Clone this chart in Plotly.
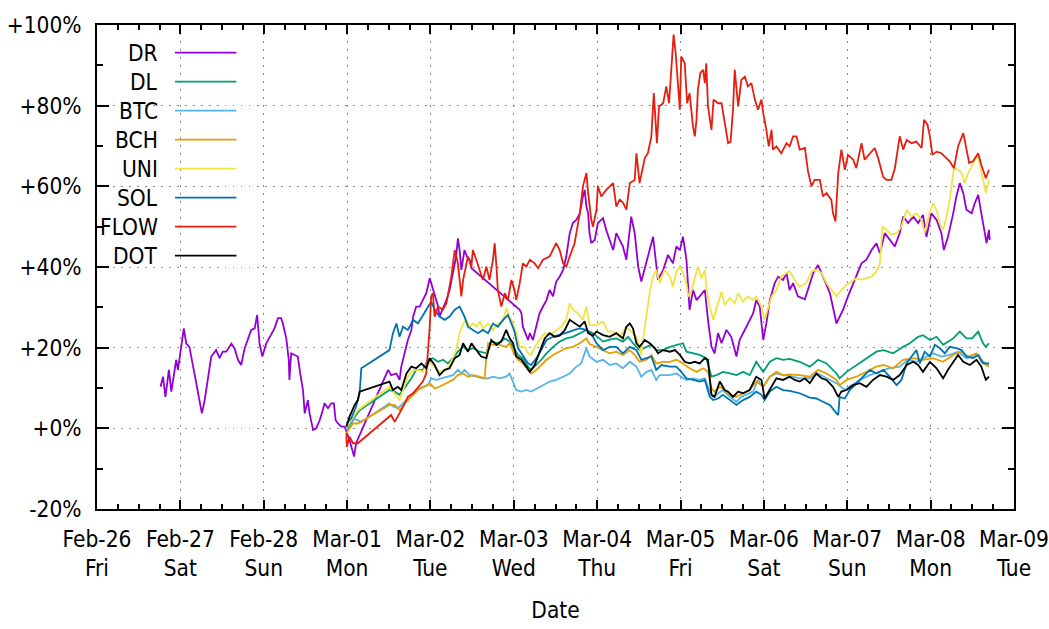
import pandas as pd
import plotly.graph_objects as go

# time axis is hours after 2021-02-26 00:00, values are % change
START = pd.Timestamp("2021-02-26")

dr_hours = [18.3, 19.0, 19.7, 20.7, 21.4, 22.8, 23.3, 25.0, 25.7, 26.6, 28.4, 29.0, 30.2, 31.0, 31.9, 32.9,
            34.3, 35.3, 36.2, 37.2, 38.7, 39.6, 40.6, 41.5, 42.5, 43.4, 44.4, 45.4, 46.1, 46.8, 47.6, 48.7,
            50.2, 51.1, 52.1, 53.0, 53.5, 54.5, 55.2, 55.4, 55.9, 56.9, 57.8, 58.5, 59.3, 59.8, 60.7, 61.2,
            62.2, 63.1, 64.1, 65.0, 65.5, 66.5, 67.4, 68.2, 68.7, 69.4, 70.3, 71.3, 71.8, 72.7, 74.0, 74.6,
            83.8, 84.7, 86.2, 87.1, 87.6, 88.6, 89.5, 90.5, 91.0, 91.9, 92.9, 93.8, 94.8, 95.8, 96.2, 97.2,
            98.2, 98.6, 99.6, 100.6, 101.5, 102.5, 103.4, 103.9, 104.4, 104.9, 105.8, 106.5, 107.3, 107.8,
            121.7, 122.2, 122.6, 124.1, 124.6, 125.5, 126.5, 127.4, 128.4, 129.4, 130.3, 131.3, 132.2, 133.2,
            134.2, 135.1, 136.1, 137.0, 138.0, 139.0, 139.9, 140.4, 140.9, 141.4, 141.8, 142.3, 143.3, 144.2,
            145.7, 146.6, 147.6, 148.6, 149.5, 150.5, 151.4, 152.4, 153.8, 154.8, 155.8, 156.7, 158.2, 160.1,
            161.5, 163.0, 164.4, 165.8, 166.8, 167.8, 168.7, 169.7, 170.6, 171.6, 172.6, 173.5, 175.0, 175.9,
            176.9, 177.8, 178.8, 179.8, 181.2, 182.6, 184.1, 185.0, 186.5, 187.9, 188.9, 189.8, 190.8, 191.8,
            192.7, 193.7, 195.1, 196.1, 197.5, 198.5, 199.4, 200.4, 201.8, 203.8, 206.2, 207.6, 209.0, 211.0,
            212.9, 214.8, 216.2, 218.6, 220.1, 221.5, 223.0, 224.4, 225.4, 226.8, 228.2, 229.7, 231.1, 232.1,
            233.5, 235.0, 236.4, 237.8, 238.8, 240.2, 241.7, 243.1, 243.8, 245.0, 246.5, 247.4, 248.4, 249.4,
            250.3, 251.8, 252.7, 253.7, 254.6, 255.6, 256.1, 256.8, 257.0]
dr_pct = [10.3, 12.8, 7.8, 14.5, 9.1, 17.0, 14.5, 24.8, 21.0, 20.2, 12.0, 9.5, 3.7, 7.0, 12.0, 17.8,
          19.4, 17.4, 19.0, 19.0, 21.0, 19.8, 17.0, 15.7, 19.8, 21.9, 24.4, 24.8, 28.1, 21.0, 17.8, 21.0,
          23.6, 24.8, 27.3, 27.3, 26.0, 22.3, 17.0, 12.0, 18.6, 18.2, 17.8, 13.6, 9.5, 3.7, 7.0, 3.7,
          -0.4, 0.0, 2.0, 4.5, 6.2, 5.0, 6.2, 6.2, 2.0, 1.2, 0.4, 0.4, -0.8, -2.9, -7.0, -3.7,
          14.5, 13.2, 13.6, 12.0, 15.3, 18.6, 21.9, 24.4, 27.7, 30.2, 30.2, 31.8, 33.5, 37.2, 36.0, 33.6,
          30.2, 27.7, 29.8, 31.8, 34.3, 38.5, 42.6, 47.1, 44.2, 39.3, 44.2, 42.6, 41.8, 39.7,
          29.4, 28.5, 25.2, 21.9, 23.6, 21.9, 25.2, 28.5, 30.2, 31.8, 34.3, 32.7, 36.4, 37.6,
          39.3, 42.6, 48.4, 50.9, 51.7, 53.3, 57.5, 59.1, 55.0, 53.3, 48.4, 45.9, 46.7, 50.9,
          52.1, 49.2, 46.7, 44.2, 48.4, 46.7, 45.1, 41.8, 52.5, 48.4, 40.1, 36.4, 41.3, 47.5,
          36.8, 39.3, 43.0, 40.9, 45.1, 44.2, 47.5, 41.8, 29.4, 34.3, 31.8, 32.7, 34.3, 26.9,
          20.2, 18.6, 23.6, 21.1, 24.4, 22.7, 17.8, 21.9, 24.4, 26.9, 28.5, 31.8, 30.2, 21.9,
          26.0, 31.8, 36.0, 37.6, 36.8, 38.5, 34.3, 36.0, 32.7, 32.0, 38.5, 40.5, 37.6, 33.5,
          26.0, 29.4, 32.7, 37.6, 40.9, 41.8, 44.2, 45.9, 43.4, 48.4, 46.7, 45.1, 48.4, 52.5,
          50.9, 52.5, 50.9, 52.9, 47.5, 53.3, 51.7, 48.4, 44.2, 47.5, 53.3, 57.5, 60.8, 58.3,
          54.2, 53.3, 55.8, 57.9, 53.3, 48.4, 45.9, 49.2, 46.7]

dl_hours = [72.2, 74.2, 75.6, 84.2, 85.7, 87.1, 89.1, 90.5, 91.9, 93.8, 95.3, 96.7, 98.2, 99.6, 101.0, 102.5,
            103.9, 105.4, 106.8, 108.2, 110.2, 112.1, 113.5, 115.4, 117.4, 118.8, 119.8, 121.2, 122.6, 124.1,
            125.0, 126.5, 127.9, 129.4, 131.3, 133.2, 135.1, 137.0, 139.0, 140.9, 142.8, 145.7, 147.6, 149.5,
            151.4, 152.9, 154.3, 156.2, 158.2, 159.6, 161.0, 163.0, 164.9, 166.8, 168.7, 169.7, 171.6, 173.5,
            175.4, 176.9, 178.3, 180.2, 182.2, 184.1, 186.0, 187.9, 189.8, 191.8, 193.7, 195.6, 197.5, 199.4,
            202.3, 205.2, 207.6, 210.0, 212.9, 213.8, 215.8, 218.6, 221.5, 224.4, 226.4, 229.2, 232.1, 234.0,
            236.4, 237.8, 239.8, 241.7, 243.6, 246.5, 248.4, 250.3, 251.9, 253.7, 255.1, 255.9, 256.8]
dl_pct = [-0.4, 2.9, 4.5, 9.5, 9.1, 8.3, 10.7, 12.4, 14.5, 14.5, 17.0, 17.4, 16.5, 17.0, 16.1, 17.4,
          19.0, 20.2, 19.4, 19.9, 19.0, 18.6, 21.5, 21.1, 22.3, 21.5, 20.2, 18.2, 17.4, 15.3,
          14.5, 15.7, 17.0, 18.6, 20.2, 21.5, 22.3, 22.7, 23.6, 24.4, 23.6, 21.5, 22.0, 22.3,
          21.5, 22.7, 21.1, 19.4, 20.2, 20.7, 19.4, 19.4, 20.2, 20.7, 21.1, 19.0, 18.6, 18.2,
          17.4, 12.8, 13.2, 14.0, 13.6, 13.2, 14.0, 13.2, 16.5, 14.0, 16.5, 17.4, 17.0, 17.2,
          16.5, 15.3, 17.0, 16.1, 13.6, 12.4, 14.0, 15.7, 17.4, 19.0, 19.4, 18.6, 20.2, 21.1,
          22.7, 23.1, 21.9, 22.7, 20.7, 22.3, 24.0, 22.3, 22.3, 24.0, 21.1, 20.2, 21.1]

btc_hours = [71.8, 73.7, 76.1, 84.2, 85.2, 86.6, 88.1, 90.0, 91.9, 93.8, 95.3, 96.2, 97.7, 99.1, 100.6, 102.5,
             103.9, 104.9, 105.8, 107.3, 109.2, 111.1, 112.6, 114.0, 115.9, 117.8, 118.8, 119.8, 120.7, 122.2,
             123.6, 125.0, 126.5, 128.4, 130.3, 132.2, 134.2, 136.1, 138.0, 139.4, 140.9, 141.8, 143.8, 145.7,
             147.6, 149.5, 151.4, 153.4, 155.3, 156.7, 158.2, 159.6, 161.0, 162.0, 164.9, 166.8, 168.2, 169.7,
             171.6, 173.5, 175.0, 176.4, 177.4, 178.8, 180.2, 182.2, 184.1, 185.5, 187.0, 188.9, 190.3, 191.8,
             193.7, 195.6, 197.5, 199.4, 202.3, 205.2, 207.6, 210.0, 212.9, 215.3, 217.2, 219.6, 222.5, 225.4,
             228.2, 231.1, 233.5, 235.9, 238.8, 240.7, 243.1, 245.5, 247.9, 250.3, 252.2, 253.7, 255.1, 256.8]
btc_pct = [-0.4, 2.5, 1.6, 6.2, 5.4, 5.0, 6.2, 7.8, 9.5, 10.3, 10.7, 12.4, 12.0, 12.4, 12.8, 13.2,
           14.5, 13.6, 14.5, 13.2, 12.8, 12.4, 12.4, 12.8, 12.4, 12.8, 13.6, 11.6, 9.5, 9.1,
           9.5, 9.1, 9.9, 10.7, 11.6, 12.0, 12.8, 13.6, 15.3, 16.1, 19.9, 17.8, 16.5, 17.0,
           15.7, 16.1, 14.9, 16.5, 15.3, 12.8, 14.0, 14.5, 12.0, 13.2, 13.2, 13.6, 12.8, 12.0,
           12.4, 12.0, 12.4, 9.1, 7.8, 8.7, 9.5, 7.8, 6.6, 7.8, 8.3, 9.1, 12.0, 10.3,
           12.8, 13.6, 13.2, 13.0, 12.4, 12.4, 13.6, 12.4, 11.2, 9.5, 10.7, 12.0, 13.2, 14.0,
           14.9, 15.3, 17.0, 16.5, 17.8, 18.6, 17.8, 18.2, 19.0, 17.4, 17.8, 18.2, 16.5, 15.7]

bch_hours = [71.8, 73.7, 75.1, 84.2, 85.7, 87.1, 88.6, 90.5, 92.4, 94.3, 95.8, 97.2, 98.6, 100.6, 102.5, 103.9,
             105.4, 106.8, 108.2, 110.2, 111.6, 112.1, 112.6, 114.0, 115.9, 117.8, 118.8, 119.8, 121.2, 122.6,
             124.1, 125.0, 126.5, 127.9, 129.4, 131.3, 133.2, 135.1, 137.0, 139.0, 140.9, 141.8, 143.8, 145.7,
             147.6, 149.5, 151.4, 153.4, 154.8, 156.2, 158.2, 159.6, 161.0, 163.0, 164.9, 166.8, 168.7, 170.6,
             172.6, 174.5, 175.9, 176.9, 177.8, 179.3, 180.7, 182.2, 184.1, 186.0, 187.9, 189.8, 191.8, 193.7,
             195.6, 197.5, 199.4, 202.3, 205.2, 207.6, 210.0, 212.9, 213.8, 215.8, 218.6, 221.5, 224.4, 226.4,
             229.2, 232.1, 235.0, 237.8, 240.7, 243.6, 246.5, 248.9, 250.8, 253.2, 254.6, 256.8]
bch_pct = [-1.2, 1.2, 1.2, 5.8, 5.8, 4.5, 6.2, 7.8, 9.5, 10.3, 11.2, 9.9, 10.3, 11.2, 12.0, 13.2,
           13.6, 12.8, 13.2, 12.8, 12.4, 17.8, 21.1, 20.7, 20.7, 20.2, 21.1, 19.0, 17.0, 16.1,
           14.5, 13.6, 14.5, 15.7, 17.0, 18.2, 19.0, 19.9, 20.2, 21.1, 22.3, 20.9, 20.2, 19.4,
           18.6, 19.0, 18.2, 19.4, 18.2, 16.5, 17.0, 18.2, 16.1, 16.5, 16.5, 17.0, 16.1, 14.9,
           14.0, 14.9, 14.0, 9.9, 9.1, 10.3, 9.5, 8.3, 7.8, 8.7, 9.5, 11.6, 10.3, 12.8,
           14.0, 13.2, 13.4, 13.2, 12.8, 14.5, 13.6, 12.0, 10.7, 12.0, 12.8, 14.0, 15.3, 15.7,
           14.9, 17.0, 17.4, 17.0, 17.4, 16.5, 18.2, 19.0, 17.8, 18.6, 16.5, 15.3]

uni_hours = [71.8, 73.7, 75.1, 84.2, 85.7, 87.1, 88.1, 89.5, 91.0, 92.4, 93.8, 95.3, 96.7, 98.6, 100.6, 102.5,
             103.4, 104.4, 105.4, 106.3, 107.3, 108.2, 109.2, 110.2, 111.1, 112.6, 114.0, 115.4, 116.9, 117.8,
             118.8, 119.8, 120.7, 121.7, 123.1, 124.1, 125.0, 126.0, 127.4, 128.9, 130.3, 132.2, 133.7, 135.1,
             136.1, 137.0, 138.5, 139.9, 140.9, 141.8, 143.8, 145.7, 147.1, 148.6, 150.5, 152.4, 153.8, 155.3,
             156.2, 156.7, 157.2, 158.2, 159.1, 160.1, 161.0, 162.0, 163.4, 164.9, 165.8, 166.8, 167.8, 168.7,
             169.7, 170.2, 171.1, 172.1, 173.0, 174.0, 175.0, 175.4, 176.4, 177.4, 178.3, 179.8, 180.7, 182.2,
             183.6, 184.6, 186.0, 187.4, 188.9, 189.8, 191.3, 192.2, 193.2, 194.2, 195.6, 197.0, 198.5, 199.4,
             200.9, 202.3, 204.2, 205.7, 207.1, 208.6, 210.0, 211.4, 212.9, 214.3, 215.8, 217.2, 218.6, 220.1,
             221.5, 223.0, 224.4, 225.4, 226.1, 227.3, 228.7, 230.2, 231.6, 233.1, 234.5, 235.9, 237.4, 238.3,
             239.6, 240.7, 241.7, 242.6, 243.6, 244.6, 245.5, 246.7, 247.9, 248.9, 249.8, 250.8, 251.8, 252.7,
             253.7, 254.4, 255.1, 255.9, 256.8]
uni_pct = [0.4, 2.9, 4.5, 10.3, 8.7, 7.0, 9.5, 12.8, 14.5, 14.5, 14.0, 16.5, 15.7, 14.0, 14.5, 17.4,
           19.4, 23.6, 26.0, 26.9, 25.2, 26.0, 25.2, 26.5, 24.8, 26.0, 24.4, 26.0, 26.5, 29.8,
           27.7, 26.0, 23.6, 20.2, 20.2, 18.6, 18.2, 20.2, 21.9, 23.6, 23.1, 24.4, 25.2, 26.9,
           31.0, 29.4, 28.5, 26.9, 30.2, 25.6, 25.6, 26.5, 24.0, 24.0, 22.7, 25.2, 24.0, 22.7,
           20.2, 18.2, 21.9, 28.5, 33.5, 37.6, 39.3, 36.0, 39.3, 37.6, 35.1, 38.9, 40.1, 38.5,
           36.0, 32.7, 33.9, 37.2, 40.1, 37.2, 39.3, 35.1, 30.2, 26.9, 29.4, 33.9, 30.6, 32.3,
           31.0, 33.5, 31.4, 32.7, 31.8, 32.7, 30.2, 26.9, 29.8, 32.7, 34.3, 37.6, 38.5, 39.0,
           36.8, 35.1, 36.0, 38.9, 39.3, 38.5, 36.0, 34.3, 32.7, 34.3, 35.6, 36.4, 37.2, 36.8,
           37.2, 37.6, 38.9, 40.9, 50.0, 49.2, 48.0, 48.4, 50.0, 54.2, 52.5, 53.3, 51.7, 48.4,
           53.3, 55.8, 54.2, 50.9, 49.2, 52.5, 56.7, 64.5, 64.1, 63.3, 60.8, 63.3, 64.9, 66.6,
           67.4, 64.1, 61.6, 58.3, 61.6]

sol_hours = [71.8, 73.2, 74.6, 75.6, 76.1, 84.2, 85.2, 86.2, 87.1, 88.1, 89.5, 91.0, 92.4, 93.8, 95.3, 96.2,
             97.2, 98.6, 100.1, 101.5, 103.0, 104.4, 105.8, 106.8, 108.2, 109.7, 111.1, 112.6, 114.0, 115.4,
             116.9, 118.3, 119.3, 120.2, 121.2, 122.6, 124.1, 125.0, 126.5, 127.9, 129.4, 131.3, 134.2, 136.1,
             137.5, 139.0, 140.9, 142.8, 143.8, 145.7, 147.6, 149.5, 151.4, 153.4, 155.3, 156.7, 158.2, 159.6,
             161.0, 162.5, 164.9, 166.8, 168.2, 169.7, 171.6, 173.5, 175.0, 176.4, 177.4, 178.8, 180.2, 182.2,
             184.1, 186.0, 187.9, 189.8, 191.3, 192.2, 193.7, 195.6, 197.5, 199.4, 202.3, 205.2, 207.1, 209.0,
             211.0, 212.9, 213.4, 213.8, 215.3, 216.7, 218.6, 220.6, 222.5, 224.4, 226.4, 228.2, 230.2, 231.6,
             233.1, 234.5, 235.9, 236.9, 238.3, 239.8, 241.2, 242.6, 244.1, 245.5, 247.4, 248.9, 250.3, 252.2,
             253.7, 255.1, 256.8]
sol_pct = [1.2, 2.5, 5.4, 8.7, 14.9, 19.4, 23.6, 26.0, 22.7, 25.2, 24.4, 26.9, 26.0, 28.1, 30.2, 31.4,
           29.4, 27.7, 26.9, 27.7, 29.4, 30.2, 27.7, 25.2, 24.4, 23.6, 24.4, 23.6, 26.0, 25.2,
           26.9, 28.1, 26.0, 24.0, 19.9, 18.2, 16.1, 15.7, 17.4, 19.4, 21.9, 22.7, 23.6, 24.0,
           24.4, 24.8, 24.4, 22.7, 21.1, 19.4, 20.2, 20.2, 18.6, 20.2, 19.4, 17.0, 17.4, 17.8,
           14.5, 15.7, 15.3, 15.3, 14.0, 12.4, 12.0, 11.6, 12.0, 7.8, 7.0, 7.4, 8.3, 7.0,
           5.8, 7.0, 7.8, 9.1, 8.3, 7.0, 9.1, 10.3, 9.5, 9.3, 8.7, 7.6, 7.4, 6.6,
           5.8, 3.7, 3.3, 7.8, 7.4, 9.5, 11.2, 12.8, 14.5, 13.6, 14.5, 12.8, 10.7, 12.0,
           16.1, 17.8, 19.4, 16.1, 19.0, 17.8, 20.7, 19.9, 18.6, 20.2, 19.9, 19.4, 17.8, 17.4,
           18.2, 16.1, 16.1]

flow_hours = [71.8, 71.9, 72.7, 73.7, 75.1, 84.7, 85.7, 86.6, 87.6, 88.6, 89.5, 91.0, 92.4, 93.8, 94.8, 95.3,
              95.8, 96.2, 96.7, 97.2, 98.2, 99.6, 100.6, 102.0, 103.0, 103.9, 104.9, 105.4, 106.3, 106.8,
              107.8, 108.2, 109.2, 110.2, 111.1, 112.1, 113.0, 114.0, 114.5, 115.0, 115.4, 116.4, 117.4, 118.3,
              119.3, 120.2, 120.7, 121.7, 122.6, 123.6, 124.6, 126.0, 127.0, 128.4, 130.3, 132.2, 133.2, 134.2,
              135.1, 136.1, 137.5, 138.5, 139.0, 139.9, 140.9, 141.4, 142.3, 142.8, 143.8, 144.2, 145.2, 146.6,
              147.6, 148.6, 149.5, 150.5, 151.4, 152.4, 153.4, 154.8, 155.3, 156.2, 157.7, 158.6, 159.6, 160.3,
              161.2, 161.8, 163.0, 163.9, 164.7, 165.4, 166.0, 166.6, 167.3, 167.8, 168.2, 169.2, 169.9, 170.6,
              171.6, 172.1, 172.6, 173.0, 173.7, 174.5, 175.0, 175.4, 175.9, 176.9, 177.5, 178.8, 179.8, 180.7,
              181.7, 182.4, 183.1, 183.6, 184.6, 185.5, 186.5, 187.4, 188.4, 189.4, 190.3, 191.3, 191.8, 192.7,
              193.4, 194.2, 194.6, 195.6, 197.0, 198.5, 199.4, 200.4, 201.4, 202.3, 203.8, 204.7, 205.7, 206.6,
              208.1, 209.0, 210.0, 211.4, 211.9, 212.6, 213.4, 214.3, 215.3, 216.2, 217.7, 218.6, 220.1, 221.0,
              222.5, 223.9, 224.9, 226.3, 227.3, 228.7, 229.7, 231.1, 232.1, 233.1, 234.5, 235.9, 237.4, 238.1,
              239.1, 239.8, 240.5, 241.7, 243.1, 244.6, 245.5, 246.7, 247.9, 249.4, 250.3, 251.1, 252.2, 253.7,
              254.6, 255.9, 256.8]
flow_pct = [-1.2, -4.6, -2.1, -3.7, -3.7, 3.3, 1.6, 2.9, 4.5, 6.2, 7.8, 8.7, 10.3, 11.6, 13.6, 18.6,
            25.2, 32.7, 33.5, 27.7, 30.2, 29.4, 31.0, 37.6, 44.2, 40.9, 32.7, 36.8, 40.1, 42.6,
            40.1, 44.2, 41.8, 38.9, 36.8, 40.1, 36.8, 41.8, 45.9, 40.1, 34.3, 30.2, 33.5, 31.8,
            36.8, 34.3, 31.8, 36.0, 40.9, 40.1, 41.8, 40.9, 39.7, 41.8, 42.6, 45.9, 44.2, 40.9,
            40.1, 42.6, 45.9, 50.9, 53.3, 60.0, 63.3, 58.3, 51.7, 50.0, 54.2, 60.0, 57.5, 59.1,
            60.0, 60.8, 55.0, 56.7, 56.0, 54.2, 60.8, 61.6, 68.2, 60.8, 67.0, 68.2, 72.4, 83.1,
            70.7, 79.8, 80.6, 84.8, 80.6, 88.9, 97.6, 93.0, 84.8, 79.0, 92.2, 90.5, 80.6, 83.1,
            74.8, 72.4, 76.5, 84.0, 88.1, 88.9, 85.6, 90.5, 79.8, 74.0, 81.5, 80.6, 80.6, 75.7,
            70.7, 71.0, 79.0, 88.9, 79.8, 86.4, 87.2, 84.8, 85.6, 81.5, 79.0, 81.5, 78.2, 74.0,
            69.9, 74.0, 69.1, 69.9, 68.2, 70.7, 69.9, 72.4, 72.4, 69.1, 69.5, 63.7, 60.0, 61.6,
            61.6, 57.5, 58.3, 56.7, 53.3, 51.3, 63.3, 69.1, 64.1, 67.8, 66.6, 64.5, 70.7, 66.6,
            68.2, 69.5, 67.0, 62.4, 61.6, 61.6, 64.5, 72.4, 69.1, 71.5, 70.7, 71.1, 69.5, 76.5,
            75.3, 72.4, 67.8, 68.6, 68.2, 67.0, 66.2, 64.5, 69.9, 73.2, 69.1, 65.8, 66.2, 68.2,
            65.3, 62.0, 64.1]

dot_hours = [71.8, 72.7, 74.2, 75.1, 75.6, 84.2, 85.2, 86.6, 87.6, 89.1, 90.5, 91.9, 93.4, 94.8, 95.8, 97.2,
             98.6, 100.1, 101.5, 103.0, 104.4, 105.4, 106.8, 107.8, 109.2, 110.6, 112.1, 113.5, 115.0, 116.4,
             117.8, 118.8, 119.8, 120.7, 122.2, 123.6, 124.6, 126.0, 127.4, 128.9, 130.3, 131.8, 133.2, 134.7,
             136.1, 137.5, 139.0, 140.4, 141.4, 142.8, 143.8, 145.7, 147.6, 149.5, 151.4, 152.4, 153.4, 154.3,
             155.3, 156.2, 157.7, 159.1, 160.6, 161.5, 163.0, 164.9, 166.4, 167.8, 169.2, 170.6, 172.1, 173.5,
             175.0, 175.9, 176.9, 177.8, 179.3, 180.7, 181.7, 183.1, 184.6, 186.0, 187.9, 189.8, 191.3, 192.2,
             193.7, 195.6, 197.5, 199.4, 200.9, 202.3, 203.8, 205.2, 207.1, 208.6, 210.0, 211.9, 213.4, 214.3,
             215.8, 217.7, 219.6, 221.5, 223.4, 225.4, 227.3, 229.2, 231.1, 233.1, 235.0, 236.4, 237.8, 239.8,
             241.7, 243.6, 245.0, 246.5, 247.9, 249.4, 251.3, 253.2, 254.6, 255.9, 256.8]
dot_pct = [0.4, 2.9, 5.8, 7.0, 9.1, 11.6, 9.5, 10.3, 9.5, 13.6, 15.3, 14.9, 16.1, 14.9, 17.4, 15.7,
           13.2, 14.5, 14.9, 17.4, 18.2, 21.1, 19.0, 21.1, 19.4, 17.8, 17.4, 21.9, 20.7, 21.5,
           24.4, 22.3, 21.1, 17.8, 17.0, 15.3, 14.0, 15.7, 19.0, 22.3, 23.6, 22.7, 23.0, 24.4,
           26.9, 26.0, 25.2, 26.5, 23.6, 23.0, 24.0, 23.1, 22.7, 23.6, 22.3, 25.2, 26.0, 24.8,
           21.1, 20.2, 21.9, 21.1, 19.9, 18.6, 19.4, 19.0, 19.4, 18.2, 16.5, 16.1, 16.5, 16.1,
           17.4, 17.0, 8.3, 7.8, 11.6, 9.5, 9.1, 7.8, 9.1, 8.7, 9.5, 12.8, 12.0, 7.4,
           9.5, 12.4, 12.0, 12.8, 12.0, 11.6, 12.4, 11.2, 13.6, 12.4, 12.0, 10.3, 7.8, 9.1,
           9.5, 10.7, 11.2, 10.3, 12.0, 13.2, 12.8, 12.0, 13.2, 15.7, 16.5, 15.7, 14.0, 16.5,
           14.9, 12.4, 14.5, 16.5, 18.2, 16.5, 15.7, 17.0, 15.3, 12.0, 12.8]

names = ["DR", "DL", "BTC", "BCH", "UNI", "SOL", "FLOW", "DOT"]
colors = ["#9400d3", "#009e73", "#56b4e9", "#e69f00", "#f0e442", "#0072b2", "#e51e10", "#000000"]
hours = [dr_hours, dl_hours, btc_hours, bch_hours, uni_hours, sol_hours, flow_hours, dot_hours]
pcts = [dr_pct, dl_pct, btc_pct, bch_pct, uni_pct, sol_pct, flow_pct, dot_pct]

y_ticks = [-20, 0, 20, 40, 60, 80, 100]
y_labels = [f"{v:+d}%" for v in y_ticks]

FONT = "DejaVu Sans Condensed"
FSIZE = 22.5

fig = go.Figure()
for name, col, h, p in zip(names, colors, hours, pcts):
    fig.add_trace(go.Scatter(
        x=START + pd.to_timedelta(h, unit="h"),
        y=p,
        mode="lines",
        name=name,
        line=dict(color=col, width=1.8),
        showlegend=False,
    ))

# gnuplot style key: label on the left, line sample on the right
for i, (name, col) in enumerate(zip(names, colors)):
    yk = 0.943 - i * 0.0599
    fig.add_annotation(x=0.069, y=yk, xref="paper", yref="paper", text=name, showarrow=False,
                       xanchor="right", yanchor="middle", font=dict(family=FONT, size=FSIZE, color="black"))
    fig.add_shape(type="line", xref="paper", yref="paper", x0=0.085, x1=0.152, y0=yk, y1=yk,
                  line=dict(color=col, width=1.8))

axis_common = dict(
    showline=True, linecolor="black", linewidth=2, mirror="allticks",
    ticks="inside", tickcolor="black", tickwidth=1.5,
    showgrid=True, gridcolor="#8c8c8c", griddash="1.5px,6.5px", gridwidth=1.2,
    zeroline=False, automargin=False,
    tickfont=dict(family=FONT, size=FSIZE, color="black"),
)

fig.update_xaxes(
    type="date",
    range=[START, START + pd.Timedelta(days=11)],
    dtick=86400000,
    tick0=START,
    tickformat="%b-%d<br>%a",
    ticklen=9,
    minor=dict(dtick=6 * 3600000, ticks="inside", ticklen=5, tickcolor="black", showgrid=False),
    ticklabelstandoff=9,
    title=dict(text="Date", font=dict(family=FONT, size=FSIZE, color="black"), standoff=22),
    **axis_common,
)
fig.update_yaxes(
    range=[-20, 100],
    tickvals=y_ticks,
    ticktext=y_labels,
    ticklen=12,
    minor=dict(dtick=10, ticks="inside", ticklen=6, tickcolor="black", showgrid=False),
    ticklabelstandoff=9,
    **axis_common,
)

fig.update_layout(
    width=1049, height=629,
    margin=dict(l=97, r=35, t=25, b=120),
    paper_bgcolor="white", plot_bgcolor="white",
    font=dict(family=FONT, size=FSIZE, color="black"),
)

# drop the page's default body margin so the figure sits at the window corner
fig.write_html("out.html", config={"displayModeBar": False},
               post_script="document.body.style.margin='0';")
